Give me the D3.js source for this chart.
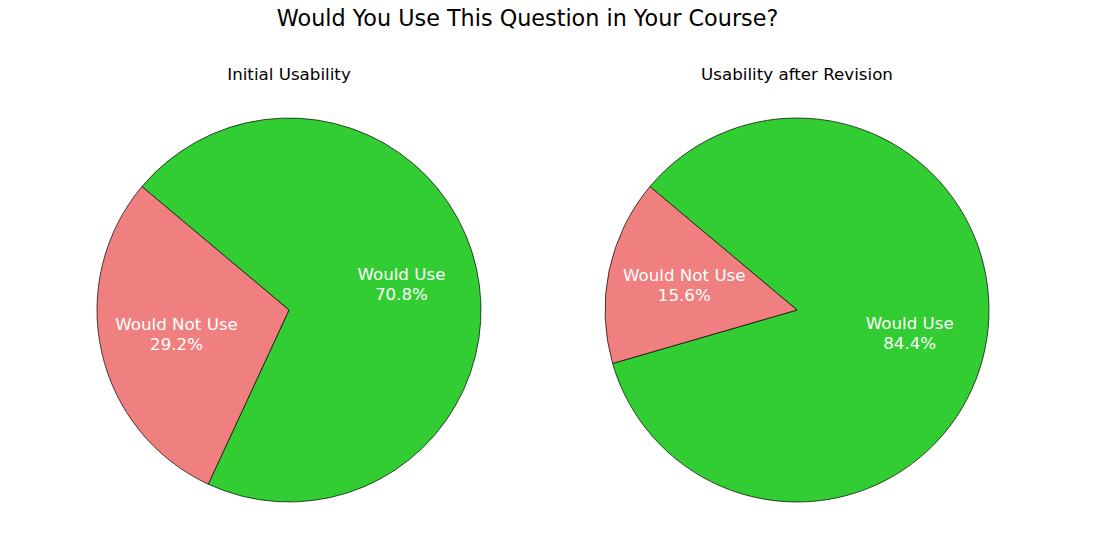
<!DOCTYPE html>
<html><head><meta charset="utf-8">
<script src="https://cdn.jsdelivr.net/npm/d3@7"></script>
<style>body{margin:0;background:#fff}svg{display:block}text{font-family:"DejaVu Sans",sans-serif}</style>
</head><body>
<svg id="c" width="1115" height="542"></svg>
<script>
const title = "Would You Use This Question in Your Course?";
const subtitles = ["Initial Usability", "Usability after Revision"];
const categories = ["Would Use", "Would Not Use"];
const initialValues = [70.8, 29.2];
const revisedValues = [84.4, 15.6];
const colors = ["#32CD32", "#F08080"];

const svg = d3.select("#c");
svg.append("text").attr("x", 527.5).attr("y", 26).attr("text-anchor", "middle")
  .attr("font-size", 22.3).attr("fill", "#000").text(title);

const centers = [[289, 310], [797, 310]];
const R = 192;
const pie = d3.pie().sort(null).value(d => d).startAngle(-50 * Math.PI / 180).endAngle(310 * Math.PI / 180);
const arc = d3.arc().innerRadius(0).outerRadius(R);
const labelArc = d3.arc().innerRadius(R * 0.6).outerRadius(R * 0.6);
const color = d3.scaleOrdinal().domain(categories).range(colors);

[initialValues, revisedValues].forEach((vals, i) => {
  const g = svg.append("g").attr("transform", `translate(${centers[i][0]},${centers[i][1]})`);
  svg.append("text").attr("x", centers[i][0]).attr("y", 80).attr("text-anchor", "middle")
    .attr("font-size", 16.7).attr("fill", "#000").text(subtitles[i]);
  const arcs = pie(vals);
  g.selectAll("path").data(arcs).join("path")
    .attr("d", arc).attr("fill", (d, j) => color(categories[j]))
    .attr("stroke", "#000").attr("stroke-width", 0.7);
  arcs.forEach((d, j) => {
    const [x, y] = labelArc.centroid(d);
    const t = g.append("text").attr("text-anchor", "middle").attr("font-size", 16.7).attr("fill", "#fff");
    t.append("tspan").attr("x", x).attr("y", y - 10 + 5).text(categories[j]);
    t.append("tspan").attr("x", x).attr("y", y + 10 + 5).text(d3.format(".1f")(vals[j]) + "%");
  });
});
</script>
</body></html>
